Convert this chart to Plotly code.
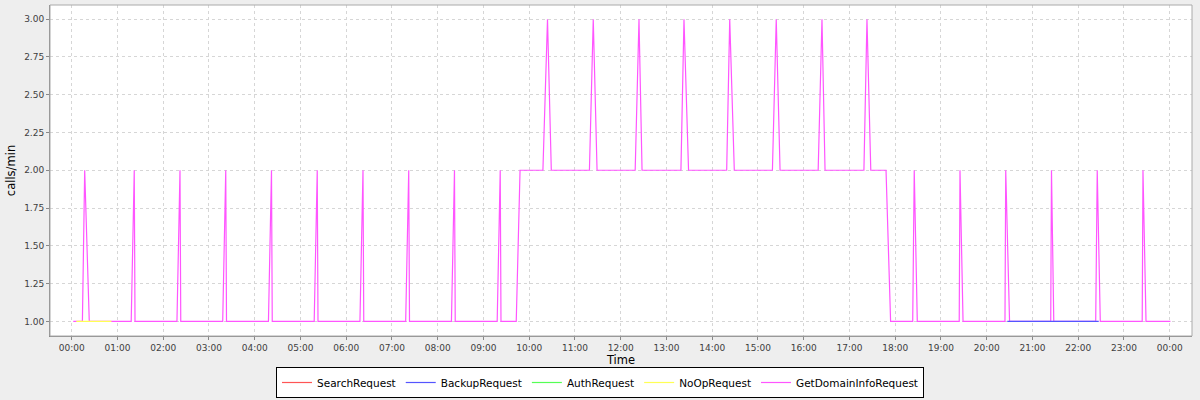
import plotly.graph_objects as go

DAY = "2024-01-01 "
NEXT = "2024-01-02 "

# GetDomainInfoRequest (magenta) breakpoints
getdomain_times = [
    DAY + "00:02", DAY + "00:14", DAY + "00:17", DAY + "00:23",
    DAY + "01:18", DAY + "01:22", DAY + "01:23",
    DAY + "02:18", DAY + "02:22", DAY + "02:23",
    DAY + "03:18", DAY + "03:22", DAY + "03:23",
    DAY + "04:18", DAY + "04:22", DAY + "04:23",
    DAY + "05:18", DAY + "05:22", DAY + "05:23",
    DAY + "06:18", DAY + "06:22", DAY + "06:23",
    DAY + "07:18", DAY + "07:22", DAY + "07:23",
    DAY + "08:18", DAY + "08:22", DAY + "08:23",
    DAY + "09:18", DAY + "09:22", DAY + "09:23",
    DAY + "09:43", DAY + "09:48",
    DAY + "10:18", DAY + "10:24", DAY + "10:29",
    DAY + "11:19", DAY + "11:24", DAY + "11:29",
    DAY + "12:19", DAY + "12:24", DAY + "12:28",
    DAY + "13:19", DAY + "13:23", DAY + "13:29",
    DAY + "14:19", DAY + "14:23", DAY + "14:29",
    DAY + "15:19", DAY + "15:24", DAY + "15:29",
    DAY + "16:19", DAY + "16:24", DAY + "16:28",
    DAY + "17:19", DAY + "17:23", DAY + "17:28",
    DAY + "17:48", DAY + "17:54",
    DAY + "18:23", DAY + "18:25", DAY + "18:29",
    DAY + "19:24", DAY + "19:25", DAY + "19:29",
    DAY + "20:24", DAY + "20:25", DAY + "20:30",
    DAY + "21:24", DAY + "21:25", DAY + "21:28",
    DAY + "22:23", DAY + "22:25", DAY + "22:29",
    DAY + "23:24", DAY + "23:25", DAY + "23:29",
    NEXT + "00:01",
]
getdomain_values = [
    1, 1, 2, 1,
    1, 2, 1,
    1, 2, 1,
    1, 2, 1,
    1, 2, 1,
    1, 2, 1,
    1, 2, 1,
    1, 2, 1,
    1, 2, 1,
    1, 2, 1,
    1, 2,
    2, 3, 2,
    2, 3, 2,
    2, 3, 2,
    2, 3, 2,
    2, 3, 2,
    2, 3, 2,
    2, 3, 2,
    2, 3, 2,
    2, 1,
    1, 2, 1,
    1, 2, 1,
    1, 2, 1,
    1, 2, 1,
    1, 2, 1,
    1, 2, 1,
    1,
]

noop_times = [DAY + "00:06", DAY + "00:52"]
noop_values = [1, 1]

backup_times = [DAY + "20:27", DAY + "22:27"]
backup_values = [1, 1]

# no visible data for these two series
search_times = [DAY + "00:00"]
search_values = [None]
auth_times = [DAY + "00:00"]
auth_values = [None]

series_names = ["SearchRequest", "BackupRequest", "AuthRequest", "NoOpRequest", "GetDomainInfoRequest"]
series_colors = ["#FF5555", "#5555FF", "#55FF55", "#FFFF55", "#FF55FF"]
series_x = [search_times, backup_times, auth_times, noop_times, getdomain_times]
series_y = [search_values, backup_values, auth_values, noop_values, getdomain_values]

y_ticks = [1.00, 1.25, 1.50, 1.75, 2.00, 2.25, 2.50, 2.75, 3.00]

FONT = "DejaVu Sans"

fig = go.Figure()
# first series drawn on top (JFreeChart reverse rendering order)
for i in reversed(range(len(series_names))):
    fig.add_trace(go.Scatter(
        x=series_x[i], y=series_y[i], mode="lines", name=series_names[i],
        line=dict(color=series_colors[i], width=1.2),
        legendrank=i + 1, showlegend=True,
    ))

fig.update_layout(
    width=1200, height=400,
    margin=dict(l=50, r=8, t=5, b=64, autoexpand=False),
    paper_bgcolor="#EEEEEE", plot_bgcolor="#FFFFFF",
    font=dict(family=FONT, size=9, color="#404040"),
    legend=dict(
        orientation="h", xref="container", yref="container",
        x=0.5, xanchor="center", y=0.005, yanchor="bottom",
        bgcolor="#FFFFFF", bordercolor="#000000", borderwidth=1,
        font=dict(family=FONT, size=10.5, color="#000000"),
        itemwidth=30, tracegroupgap=0,
    ),
    shapes=[dict(type="rect", xref="paper", yref="paper", x0=0, x1=1, y0=0, y1=1,
                 line=dict(color="#AAAAAA", width=1), layer="above")],
)

fig.update_xaxes(
    type="date",
    range=["2023-12-31 23:31:30", "2024-01-02 00:29:18"],
    autorange=False, automargin=False,
    tickformat="%H:%M", dtick=3600000, tick0="2024-01-01 00:00",
    showgrid=True, gridcolor="#D6D6D6", griddash="3px,3px", gridwidth=1,
    showline=True, linecolor="#888888", linewidth=1,
    ticks="outside", ticklen=3, tickcolor="#888888",
    tickfont=dict(family=FONT, size=9, color="#404040"),
    title=dict(text="Time", font=dict(family=FONT, size=11.5, color="#000000"), standoff=5),
    zeroline=False,
)

fig.update_yaxes(
    range=[0.903, 3.094], autorange=False, automargin=False,
    tickvals=y_ticks, tickformat=".2f",
    showgrid=True, gridcolor="#D6D6D6", griddash="3px,3px", gridwidth=1,
    showline=True, linecolor="#888888", linewidth=1,
    ticks="outside", ticklen=3, tickcolor="#888888",
    tickfont=dict(family=FONT, size=9, color="#404040"),
    title=dict(text="calls/min", font=dict(family=FONT, size=11.5, color="#000000"), standoff=6),
    zeroline=False,
)

fig.write_html(
    "out.html",
    config={"displayModeBar": False},
    post_script="document.body.style.margin='0';document.body.style.background='#EEEEEE';",
)
